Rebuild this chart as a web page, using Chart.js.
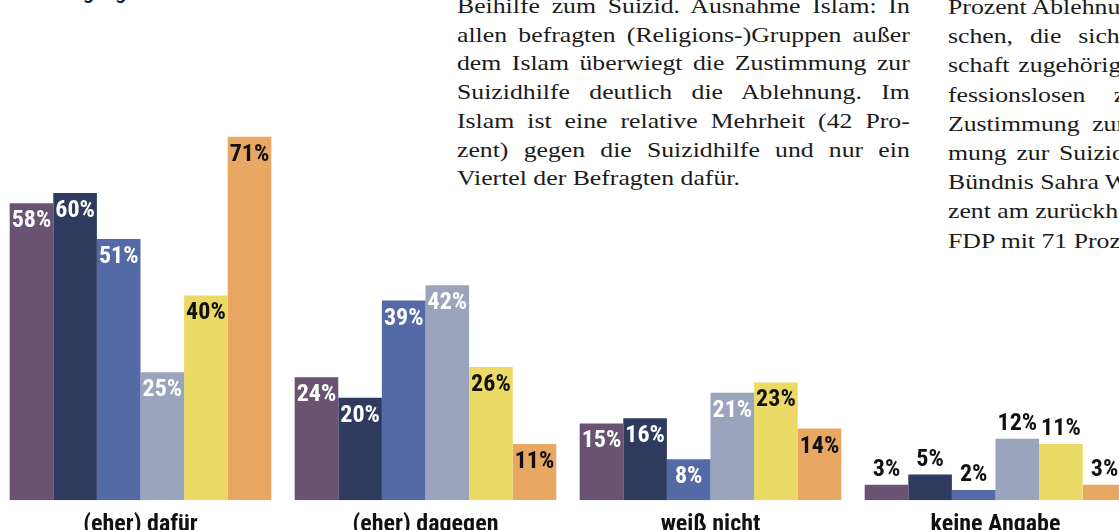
<!DOCTYPE html>
<html lang="de">
<head>
<meta charset="utf-8">
<script src="https://cdn.jsdelivr.net/npm/chart.js@4"></script>
<style>
  html, body { margin: 0; padding: 0; background: #fff; overflow: hidden; width: 1119px; height: 530px; }
  #wrap { position: absolute; left: -2px; top: 0; width: 1140px; height: 549px; }
  .title { position: absolute; left: 37px; top: -19px; font: bold 19px Roboto, sans-serif; color: #13202f; white-space: nowrap; }
  .col { position: absolute; top: -8px; width: 387px; font-family: "Liberation Serif", serif; font-size: 22px; line-height: 28.7px; color: #1b1b1b; transform: scaleX(1.17); transform-origin: 0 0; }
  .col div { text-align: justify; text-align-last: justify; white-space: nowrap; }
  .col div.last { text-align-last: left; }
</style>
</head>
<body>
<div class="title">Befragung</div>
<div class="col" style="left:457px">
  <div>Beihilfe zum Suizid. Ausnahme Islam: In</div>
  <div>allen befragten (Religions-)Gruppen außer</div>
  <div>dem Islam überwiegt die Zustimmung zur</div>
  <div>Suizidhilfe deutlich die Ablehnung. Im</div>
  <div>Islam ist eine relative Mehrheit (42 Pro-</div>
  <div>zent) gegen die Suizidhilfe und nur ein</div>
  <div class="last">Viertel der Befragten dafür.</div>
</div>
<div class="col" style="left:948px; line-height:29.2px">
  <div>Prozent Ablehnung. Bei den befragten Men-</div>
  <div>schen, die sich keiner Religionsgemein-</div>
  <div>schaft zugehörig fühlen, also bei den Kon-</div>
  <div>fessionslosen zeigt sich die höchste</div>
  <div>Zustimmung zur Suizidhilfe. Die Zustim-</div>
  <div>mung zur Suizidhilfe ist bei Wählern vom</div>
  <div>Bündnis Sahra Wagenknecht sind es 58 Pro-</div>
  <div>zent am zurückhaltendsten, am höchsten bei der</div>
  <div class="last">FDP mit 71 Prozent.</div>
</div>
<div id="wrap"><canvas id="chart"></canvas></div>
<script>
// answer categories
const categories = ['(eher) dafür', '(eher) dagegen', 'weiß nicht', 'keine Angabe'];

// one series per group, values in percent
const series1 = [58, 24, 15, 3];
const series2 = [60, 20, 16, 5];
const series3 = [51, 39, 8, 2];
const series4 = [25, 42, 21, 12];
const series5 = [40, 26, 23, 11];
const series6 = [71, 11, 14, 3];

const colors = ['#6a5273', '#2e3a5e', '#546aa6', '#9aa4bc', '#ecda67', '#e8a762'];
const labelColors = ['#fff', '#fff', '#fff', '#fff', '#111', '#111'];
// categories whose labels sit above the bars
const labelAbove = [false, false, false, true];

const allSeries = [series1, series2, series3, series4, series5, series6];

const labelFont = 'bold 24px "Liberation Sans Narrow", "Roboto Condensed", "DejaVu Sans Condensed", sans-serif';

// Plugin to draw the percent labels on the bars
const barLabels = {
    id: 'barLabels',
    afterDatasetsDraw(chart) {
        const ctx = chart.ctx;
        ctx.save();
        ctx.font = labelFont;
        ctx.textAlign = 'center';
        ctx.textBaseline = 'middle';
        chart.data.datasets.forEach((ds, di) => {
            const meta = chart.getDatasetMeta(di);
            meta.data.forEach((bar, i) => {
                const text = ds.data[i] + '%';
                if (labelAbove[i]) {
                    ctx.fillStyle = '#111';
                    ctx.fillText(text, bar.x, bar.y - 15);
                } else {
                    ctx.fillStyle = labelColors[di];
                    ctx.fillText(text, bar.x, bar.y + 18);
                }
            });
        });
        ctx.restore();
    }
};

const ctx = document.getElementById('chart').getContext('2d');
new Chart(ctx, {
    type: 'bar',
    data: {
        labels: categories,
        datasets: allSeries.map((s, i) => ({
            data: s,
            backgroundColor: colors[i],
            borderWidth: 0,
            barPercentage: 1,
            categoryPercentage: 0.918
        }))
    },
    options: {
        responsive: true,
        maintainAspectRatio: false,
        animation: false,
        layout: { padding: 0 },
        plugins: {
            legend: { display: false },
            tooltip: { enabled: false }
        },
        scales: {
            x: {
                grid: { display: false, drawTicks: false },
                border: { display: false },
                ticks: {
                    color: '#111',
                    padding: 10,
                    font: { family: '"Liberation Sans Narrow", "Roboto Condensed", sans-serif', size: 24, weight: 'bold' }
                }
            },
            y: {
                display: false,
                min: 0,
                max: 97.7
            }
        }
    },
    plugins: [barLabels]
});
</script>
</body>
</html>
